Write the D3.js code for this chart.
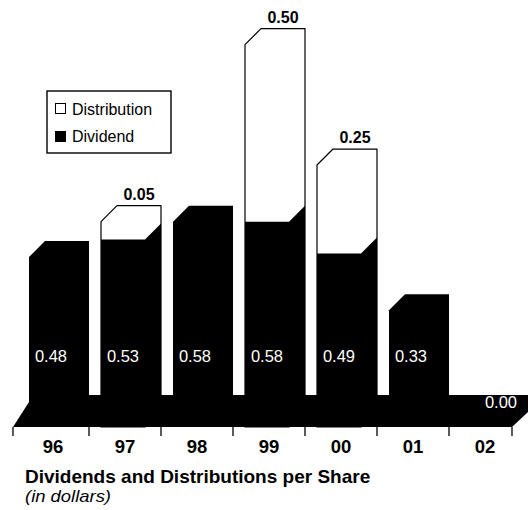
<!DOCTYPE html>
<html><head><meta charset="utf-8">
<script src="https://cdn.jsdelivr.net/npm/d3@7"></script>
<style>
html,body{margin:0;padding:0;background:#fff;}
svg{display:block;font-family:"Liberation Sans",Arial,Helvetica,sans-serif;}
</style></head>
<body><svg id="c" width="528" height="510"></svg>
<script>
const years = ["96","97","98","99","00","01","02"];
const dividend = [0.48,0.53,0.58,0.58,0.49,0.33,0.00];
const distribution = [0,0.05,0,0.50,0.25,0,0];
const dividendLabels = ["0.48","0.53","0.58","0.58","0.49","0.33","0.00"];
const distributionLabels = ["","0.05","","0.50","0.25","",""];
const legendItems = ["Distribution","Dividend"];
const title = "Dividends and Distributions per Share";
const subtitle = "(in dollars)";

const svg = d3.select("#c");
const y0 = 427;
const x = d3.scaleBand().domain(years).range([17,521]).paddingInner(0).paddingOuter(0);
const y = d3.scaleLinear().domain([0,1]).range([y0, y0-354]);
const dx = 16, dy = 16, inset = 12, bw = 44;
const baseL = 13, baseR = 512;

// base slab
svg.append("polygon")
  .attr("points", [[baseL,y0],[29,402],[29,395],[528,395],[528,412],[baseR,y0]].map(p=>p.join(",")).join(" "))
  .attr("fill","#000");

const g = svg.append("g");
years.forEach((yr,i)=>{
  const fx = x(yr)+inset;
  const yd = y(dividend[i]);
  const yt = y(dividend[i]+distribution[i]);
  if (dividend[i]+distribution[i] <= 0) return;
  if (distribution[i] > 0) {
    const pts = [[fx,y0],[fx,yt],[fx+dx,yt-dy],[fx+bw+dx,yt-dy],[fx+bw+dx,y0-dy],[fx+bw,y0]];
    g.append("polygon").attr("points", pts.map(p=>p.join(",")).join(" "))
      .attr("fill","#fff").attr("stroke","#000").attr("stroke-width",1.2).attr("stroke-linejoin","round");
    const bp = [[fx,y0],[fx,yd],[fx+bw,yd],[fx+bw+dx,yd-dy],[fx+bw+dx,y0-dy],[fx+bw,y0]];
    g.append("polygon").attr("points", bp.map(p=>p.join(",")).join(" ")).attr("fill","#000");
    g.append("text").attr("x", fx+bw/2+dx).attr("y", yt-dy-6)
      .attr("text-anchor","middle").attr("font-size",16).attr("font-weight","bold")
      .text(distributionLabels[i]);
  } else {
    const bp = [[fx,y0],[fx,yd],[fx+dx,yd-dy],[fx+bw+dx,yd-dy],[fx+bw+dx,y0-dy],[fx+bw,y0]];
    g.append("polygon").attr("points", bp.map(p=>p.join(",")).join(" ")).attr("fill","#000");
  }
});

// dividend value labels
years.forEach((yr,i)=>{
  const cx = x(yr)+inset+bw/2;
  const zero = dividend[i] <= 0;
  svg.append("text")
    .attr("x", zero ? cx+dx+2 : cx)
    .attr("y", zero ? 408 : 362)
    .attr("text-anchor","middle").attr("fill","#fff").attr("font-size",16.5)
    .text(dividendLabels[i]);
});

// ticks
const tickXs = [baseL].concat(years.slice(1).map(d=>x(d))).concat([baseR]);
svg.selectAll("line.tick").data(tickXs).enter().append("line")
  .attr("x1",d=>d).attr("x2",d=>d).attr("y1",y0).attr("y2",y0+9)
  .attr("stroke","#000").attr("stroke-width",1.3);
svg.selectAll("text.yr").data(years).enter().append("text")
  .attr("x",d=>x(d)+x.bandwidth()/2).attr("y",453)
  .attr("text-anchor","middle").attr("font-size",18.5).attr("font-weight","bold")
  .text(d=>d);

// titles
svg.append("text").attr("x",25).attr("y",483).attr("font-size",19).attr("font-weight","bold").text(title);
svg.append("text").attr("x",25).attr("y",502).attr("font-size",16.5).attr("font-style","italic")
  .attr("textLength",86).attr("lengthAdjust","spacingAndGlyphs").text(subtitle);

// legend
svg.append("rect").attr("x",47).attr("y",91).attr("width",124).attr("height",62)
  .attr("fill","#fff").attr("stroke","#000").attr("stroke-width",1.4);
svg.append("rect").attr("x",55.5).attr("y",103.5).attr("width",10).attr("height",10)
  .attr("fill","#fff").attr("stroke","#000").attr("stroke-width",1);
svg.append("rect").attr("x",55).attr("y",131).attr("width",11).attr("height",11).attr("fill","#000");
svg.append("text").attr("x",72).attr("y",115).attr("font-size",16).text(legendItems[0]);
svg.append("text").attr("x",72).attr("y",142).attr("font-size",16).text(legendItems[1]);
</script></body></html>
